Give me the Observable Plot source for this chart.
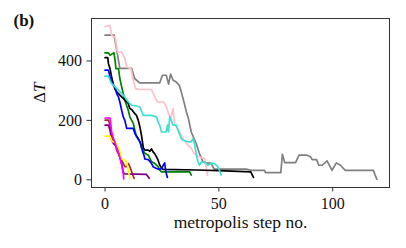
<!DOCTYPE html>
<html>
<head>
<meta charset="utf-8">
<script src="https://cdn.jsdelivr.net/npm/d3@7"></script>
<script src="https://cdn.jsdelivr.net/npm/@observablehq/plot@0.6"></script>
<style>
  html, body { margin: 0; padding: 0; background: #fff; }
  #chart svg { display: block; }
</style>
</head>
<body>
<div id="chart"></div>
<script>
// ---- data (x = metropolis step, y = ΔT) ----
const seriesNames = ["gray", "pink", "green", "black", "blue", "turquoise", "brown", "purple", "yellow", "magenta"];
const seriesColors = ["#808080", "#ffc0cb", "#008000", "#000000", "#0000ff", "#40e0d0", "#a52a2a", "#800080", "#ffff00", "#ff00ff"];

const grayPts = [[0,487],[4,487],[6.5,375],[11.7,375],[13,341],[15.2,326],[24,326],[25.2,352],[26.9,352],[27.9,322],[28.8,356],[29.9,335],[31.3,329],[32.6,318],[33.5,296],[34.8,258],[35.7,229],[36.6,207],[37.9,160],[40,123],[41.4,90],[43,60],[44.4,56],[46.6,56],[47.9,36],[62,36],[64,32],[70,32],[70.5,24],[77.2,24],[77.9,86],[78.9,58],[83.7,58],[85.2,83],[88.8,83],[90.3,77],[91,68],[92.9,68],[93.9,49],[95.4,49],[97.5,64],[98.3,53],[99.7,32],[101.6,57],[103.4,49],[105.5,32],[117.9,32],[118.6,16],[119.4,2]];
const pinkPts = [[0,516],[2.2,520],[2.9,486],[4.4,481],[5.5,430],[7.3,430],[8.7,408],[9.5,380],[11.4,374],[12.4,335],[13.4,307],[15.3,304],[20.4,304],[21.8,279],[23,262],[25.9,262],[26.9,245],[27.9,223],[28.8,206],[29.9,240],[30.6,184],[32,173],[33.5,150],[35.7,123],[37.9,105],[39,90],[40.5,80],[42,75],[43.7,72],[44.4,45],[45,16]];
const greenPts = [[0,427],[1.5,427],[2.2,419],[3.9,428],[4.4,402],[4.8,374],[5.9,374],[6.5,341],[7.3,313],[8,290],[8.7,268],[10.2,234],[10.9,212],[11.7,200],[12.4,190],[13.1,167],[13.8,145],[15.3,128],[16,108],[17.5,89],[19,83],[19.7,72],[20.4,62],[21.8,55],[23.3,44],[24,33],[24.8,27],[37.1,27],[37.9,16]];
const blackPts = [[0,411],[1.2,411],[1.5,391],[2.2,374],[2.9,345],[3.7,320],[4.4,305],[5.1,296],[5.9,290],[6.5,285],[7.3,279],[8,274],[8.7,268],[9.5,262],[10.2,257],[10.9,240],[11.7,237],[12.4,229],[13.1,223],[13.8,217],[14.6,200],[15.3,178],[16,150],[16.8,108],[17.5,100],[19,100],[19.7,96],[20.4,104],[21.1,94],[21.8,88],[22.6,77],[23.3,66],[24,50],[24.8,40],[25.5,35],[40,33],[50,31],[64,27],[65.2,8]];
const bluePts = [[0,369],[1.5,369],[2.2,348],[2.9,329],[3.7,318],[4.4,313],[5.1,290],[5.9,279],[6.5,262],[7.3,234],[8,212],[8.7,200],[9.5,173],[12.4,173],[13.1,156],[14.6,139],[15.7,122],[16.5,95],[17.2,80],[17.5,70],[19,68],[19.7,62],[20.4,55],[21.1,44],[22.6,38],[24,35],[24.8,38],[25.5,48],[26.2,57],[26.5,38],[26.9,21],[27.4,8]];
const turquoisePts = [[0,349],[1.5,349],[2.2,335],[2.9,324],[4.4,313],[5.9,302],[7.3,290],[8.7,279],[10.2,262],[11.7,251],[13.1,250],[15.3,245],[16,232],[16.8,217],[20.4,217],[22.6,212],[23.3,195],[24,184],[24.8,161],[26.9,161],[27.4,184],[27.9,161],[28.4,212],[29.1,200],[29.9,184],[31.3,184],[32,167],[33.5,139],[34.2,133],[36.4,128],[37.9,128],[38.6,139],[39.3,122],[40,89],[40.8,60],[41.5,49],[42.2,60],[43.7,60],[45.2,49],[46.6,55],[48,55],[49.5,44],[50.2,33],[51,16]];
const brownPts = [[0,201],[1.5,201],[2.2,184],[2.9,150],[3.7,128],[4.4,122],[5.1,100],[6.5,77],[8,55],[8.7,44],[9.5,44],[10.2,55],[10.9,44],[11.7,27],[12.4,12],[12.8,5]];
const purplePts = [[0,184],[1.5,184],[2.2,167],[2.9,133],[3.7,122],[4.4,117],[5.9,100],[6.5,77],[7.3,55],[8,25],[8.7,20],[18.2,18],[19.4,5]];
const yellowPts = [[0,147],[2.2,147],[2.9,132],[3.4,128],[4.4,128],[5.1,117],[5.9,108],[6.5,95],[7.3,70],[8.7,66],[9.5,60],[10.2,33],[10.9,5]];
const magentaPts = [[0,208],[2.2,208],[2.9,160],[3.7,140],[4.4,125],[5.1,105],[5.9,89],[6.5,75],[7.3,50],[8,21],[8.2,3]];

const xTicks = [0, 50, 100];
const yTicks = [0, 200, 400];
const xLabel = "metropolis step no.";
const yLabel = "ΔT";
const panelLabel = "(b)";

// ---- build table ----
const allPts = [grayPts, pinkPts, greenPts, blackPts, bluePts, turquoisePts, brownPts, purplePts, yellowPts, magentaPts];
const rows = [];
allPts.forEach((pts, i) => pts.forEach(([x, y]) => rows.push({series: seriesNames[i], x, y})));

const FONT = "'Liberation Serif', 'DejaVu Serif', serif";
const frameColor = "#333";

const chart = Plot.plot({
  width: 406,
  height: 248,
  marginLeft: 91,
  marginRight: 17,
  marginTop: 18,
  marginBottom: 61,
  style: {fontFamily: FONT, fontSize: "16px", color: "#111", background: "#fff", overflow: "visible"},
  x: {domain: [-5.95, 124.95]},
  y: {domain: [-25.9, 543]},
  color: {domain: seriesNames, range: seriesColors},
  marks: [
    Plot.line(rows, {x: "x", y: "y", z: "series", stroke: "series", strokeWidth: 1.7, strokeLinejoin: "round"}),
    Plot.frame({stroke: frameColor, strokeWidth: 1}),
    Plot.axisX({ticks: xTicks, tickSize: 4.5, tickPadding: 6, label: null, stroke: frameColor, fontSize: 16}),
    Plot.axisY({ticks: yTicks, tickSize: 4.5, tickPadding: 5, label: null, stroke: frameColor, fontSize: 16}),
    Plot.text([xLabel], {frameAnchor: "bottom", dy: 40, fontSize: 17.5, fill: "#111"}),
    Plot.text([yLabel], {frameAnchor: "left", dx: -52, rotate: -90, fontSize: 17, fill: "#111"}),
    Plot.text([panelLabel], {frameAnchor: "top-left", dx: -78, dy: -5, fontSize: 17, fontWeight: "bold", fill: "#111"})
  ]
});
document.getElementById("chart").appendChild(chart);

// italic T in ΔT
d3.select(chart).selectAll("text").each(function() {
  if (this.textContent === yLabel) {
    const t = d3.select(this);
    t.text(null);
    t.append("tspan").text("Δ");
    t.append("tspan").attr("font-style", "italic").text("T");
  }
});
</script>
</body>
</html>
